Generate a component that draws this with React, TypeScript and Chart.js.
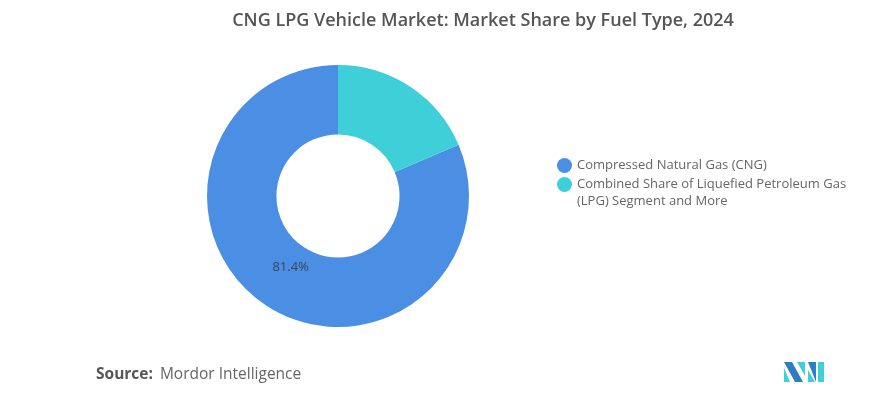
import React, { useEffect, useRef } from "react";
import { Chart, registerables } from "chart.js";

Chart.register(...registerables);

const title = "CNG LPG Vehicle Market: Market Share by Fuel Type, 2024";
const categories = [
  "Compressed Natural Gas (CNG)",
  "Combined Share of Liquefied Petroleum Gas (LPG) Segment and More",
];
const shares = [81.4, 18.6];
const colors = ["#4a8fe3", "#3fcfd9"];
const shownLabels = ["81.4%", ""];

const labelPlugin = {
  id: "sliceLabels",
  afterDatasetsDraw(chart: any) {
    const ctx = chart.ctx;
    const meta = chart.getDatasetMeta(0);
    meta.data.forEach((arc: any, i: number) => {
      const text = shownLabels[i];
      if (!text) return;
      const { x, y, startAngle, endAngle, innerRadius, outerRadius } = arc.getProps(
        ["x", "y", "startAngle", "endAngle", "innerRadius", "outerRadius"],
        true
      );
      const mid = (startAngle + endAngle) / 2;
      const r = innerRadius + (outerRadius - innerRadius) * 0.35;
      ctx.save();
      ctx.font = "13px 'Open Sans', sans-serif";
      ctx.fillStyle = "#3a4657";
      ctx.textAlign = "center";
      ctx.textBaseline = "middle";
      ctx.fillText(text, x + Math.cos(mid) * r, y + Math.sin(mid) * r);
      ctx.restore();
    });
  },
};

export default function App() {
  const ref = useRef<HTMLCanvasElement>(null);
  useEffect(() => {
    document.body.style.margin = "0";
    const chart = new Chart(ref.current!, {
      type: "doughnut",
      data: {
        labels: categories,
        datasets: [
          {
            data: shares,
            backgroundColor: colors,
            borderWidth: 0,
          },
        ],
      },
      options: {
        animation: false,
        responsive: false,
        rotation: (shares[1] / 100) * 360,
        cutout: "47%",
        layout: { padding: { left: 207, right: 415, top: 65, bottom: 72 } },
        plugins: {
          legend: { display: false },
          tooltip: { enabled: false },
          title: { display: false },
        },
      },
      plugins: [labelPlugin],
    });
    return () => chart.destroy();
  }, []);

  const font = "'Open Sans', sans-serif";
  return (
    <div style={{ position: "relative", width: 884, height: 399, background: "#fff", fontFamily: font }}>
      <canvas ref={ref} width={884} height={399} style={{ position: "absolute", left: 0, top: 0 }} />
      <div
        style={{
          position: "absolute",
          left: 0,
          width: 966,
          top: 7,
          textAlign: "center",
          fontSize: 18,
          fontWeight: 600,
          color: "#555",
          whiteSpace: "nowrap",
        }}
      >
        {title}
      </div>
      <div style={{ position: "absolute", left: 557, top: 156, width: 300 }}>
        {categories.map((c, i) => (
          <div key={i} style={{ display: "flex", alignItems: "flex-start", marginBottom: 2 }}>
            <span
              style={{
                width: 15,
                height: 15,
                borderRadius: "50%",
                background: colors[i],
                flex: "0 0 15px",
                marginTop: 2,
                marginRight: 5,
              }}
            />
            <span style={{ fontSize: 13, lineHeight: "17px", color: "#666" }}>{c}</span>
          </div>
        ))}
      </div>
      <div style={{ position: "absolute", left: 96, top: 362, fontSize: 15.5, color: "#666", whiteSpace: "nowrap" }}>
        <span style={{ fontWeight: 700, color: "#555" }}>Source:</span>
        <span style={{ marginLeft: 7 }}>Mordor Intelligence</span>
      </div>
      <svg style={{ position: "absolute", left: 784, top: 362 }} width={42} height={20} viewBox="0 0 42 20">
        <polygon points="0,0 8,0 19,20 11,20" fill="#2d7fc1" />
        <polygon points="0,6 6,20 0,20" fill="#3fcfd9" />
        <polygon points="13,0 21,0 21,14" fill="#3fcfd9" />
        <polygon points="24,0 32,0 32,20" fill="#2d7fc1" />
        <polygon points="24,8 31,20 24,20" fill="#3fcfd9" />
        <polygon points="34,0 40,0 40,20 34,20" fill="#3fcfd9" />
      </svg>
    </div>
  );
}
